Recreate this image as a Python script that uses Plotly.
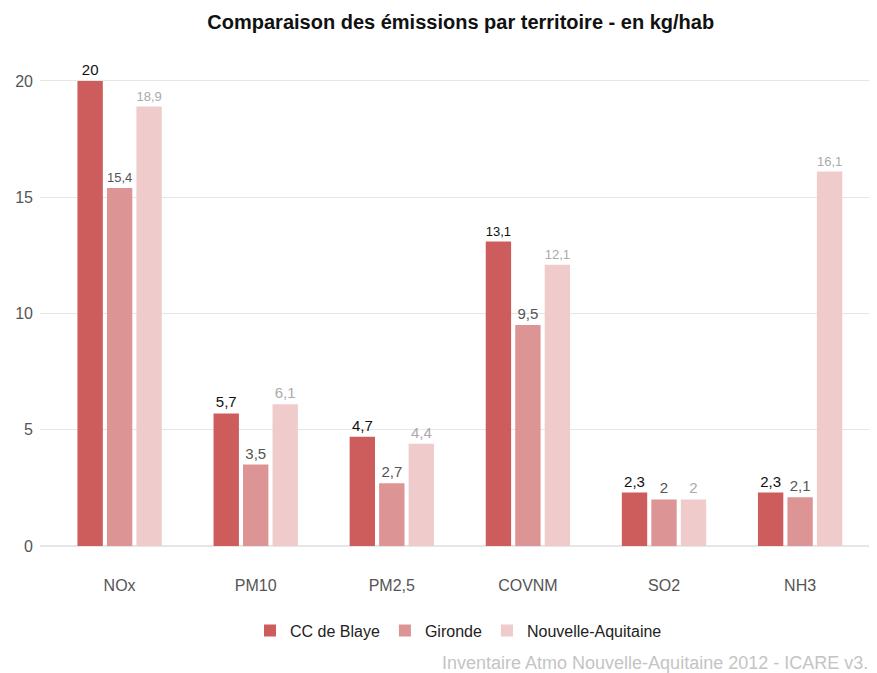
import plotly.graph_objects as go

categories = ["NOx", "PM10", "PM2,5", "COVNM", "SO2", "NH3"]
cc_blaye = [20, 5.7, 4.7, 13.1, 2.3, 2.3]
gironde = [15.4, 3.5, 2.7, 9.5, 2, 2.1]
nouvelle_aquitaine = [18.9, 6.1, 4.4, 12.1, 2, 16.1]

series = [
    ("CC de Blaye", cc_blaye, "#cd5c5c", "#111111"),
    ("Gironde", gironde, "#dd9494", "#555555"),
    ("Nouvelle-Aquitaine", nouvelle_aquitaine, "#f0cbcb", "#aaaaaa"),
]

fig = go.Figure()
for name, vals, color, text_color in series:
    fig.add_trace(
        go.Bar(
            x=categories,
            y=vals,
            name=name,
            marker=dict(color=color, line=dict(width=0)),
            text=vals,
            texttemplate="%{y}",
            textposition="outside",
            outsidetextfont=dict(color=text_color, size=15),
            cliponaxis=False,
        )
    )

# the page body has an 8px margin, so the figure is sized to fit inside it
fig.update_layout(
    width=869,
    height=665,
    barmode="group",
    bargap=0.35,
    bargroupgap=0.14,
    separators=", ",
    plot_bgcolor="white",
    paper_bgcolor="white",
    font=dict(family="Liberation Sans, Arial, sans-serif", size=15, color="#444444"),
    title=dict(
        text="<b>Comparaison des émissions par territoire - en kg/hab</b>",
        x=0.521,
        xanchor="center",
        y=0.979,
        yanchor="middle",
        font=dict(size=20, color="#111111"),
    ),
    margin=dict(t=52, b=127, l=32, r=0),
    showlegend=True,
    legend=dict(
        orientation="h",
        x=0.5,
        xanchor="center",
        y=-0.139,
        yanchor="top",
        font=dict(size=16, color="#222222"),
    ),
    xaxis=dict(
        range=[-0.585, 5.565],
        showgrid=False,
        showline=False,
        ticks="",
        ticklabelstandoff=28,
        tickfont=dict(size=16, color="#555555"),
    ),
    yaxis=dict(
        range=[0, 20.9],
        tickvals=[0, 5, 10, 15, 20],
        showgrid=True,
        gridcolor="#e6e6e6",
        zeroline=True,
        zerolinecolor="#e6e6e6",
        ticklabelstandoff=6,
        tickfont=dict(size=16, color="#555555"),
    ),
    annotations=[
        dict(
            text="Inventaire Atmo Nouvelle-Aquitaine 2012 - ICARE v3.1",
            xref="paper",
            yref="paper",
            x=0.478,
            xanchor="left",
            y=-0.241,
            yanchor="middle",
            showarrow=False,
            font=dict(size=18, color="#c4c4c4"),
        )
    ],
)

fig.write_html("out.html")
